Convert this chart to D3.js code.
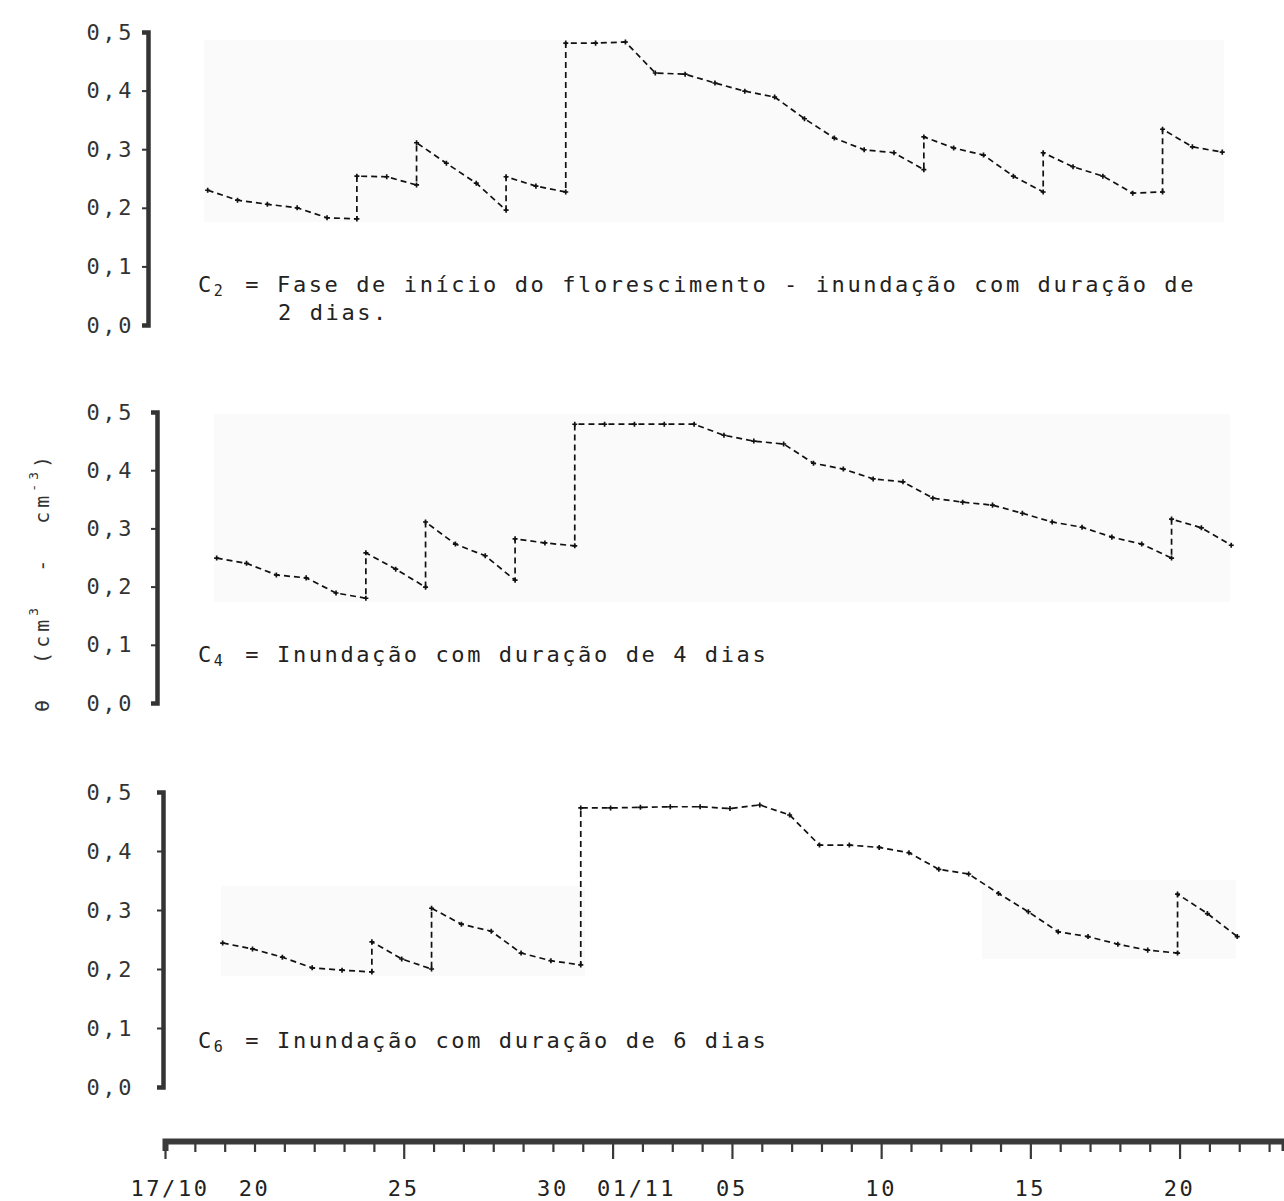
<!DOCTYPE html>
<html>
<head>
<meta charset="utf-8">
<script src="https://cdn.jsdelivr.net/npm/d3@7"></script>
<style>
body{margin:0;background:#fff}
text{font-family:"DejaVu Sans Mono",monospace}
</style>
</head>
<body>
<svg id="chart"></svg>
<script>
// day 0 = 17/10 ; a day listed twice is the value before and after the flooding
var c2Days  = [2,3,4,5,6,7,7,8,9,9,10,11,12,12,13,14,14,15,16,17,18,19,20,21,22,23,24,25,26,26,27,28,29,30,30,31,32,33,34,34,35,36];
var c2Theta = [0.230,0.213,0.206,0.200,0.183,0.181,0.254,0.253,0.239,0.311,0.276,0.242,0.196,0.253,0.237,0.227,0.481,0.481,0.483,0.430,0.428,0.413,0.399,0.389,0.352,0.319,0.299,0.294,0.265,0.321,0.302,0.290,0.254,0.227,0.294,0.270,0.254,0.225,0.227,0.334,0.304,0.295];

var c4Days  = [2,3,4,5,6,7,7,8,9,9,10,11,12,12,13,14,14,15,16,17,18,19,20,21,22,23,24,25,26,27,28,29,30,31,32,33,34,34,35,36];
var c4Theta = [0.249,0.240,0.220,0.215,0.189,0.180,0.258,0.230,0.199,0.311,0.273,0.253,0.211,0.282,0.275,0.270,0.479,0.479,0.479,0.479,0.479,0.460,0.450,0.445,0.412,0.402,0.385,0.380,0.352,0.345,0.340,0.326,0.311,0.302,0.285,0.273,0.249,0.316,0.301,0.271];

var c6Days  = [2,3,4,5,6,7,7,8,9,9,10,11,12,13,14,14,15,16,17,18,19,20,21,22,23,24,25,26,27,28,29,30,31,32,33,34,34,35,36];
var c6Theta = [0.244,0.234,0.220,0.202,0.198,0.195,0.246,0.217,0.200,0.303,0.276,0.264,0.227,0.214,0.207,0.473,0.473,0.474,0.475,0.475,0.472,0.478,0.461,0.410,0.410,0.406,0.397,0.369,0.361,0.328,0.297,0.263,0.255,0.242,0.232,0.227,0.327,0.294,0.255];

var yTicks = [0,0.1,0.2,0.3,0.4,0.5];
var dateTickDays = [0,3,8,13,15,19,24,29,34];
var dateTickLabels = ["17/10","20","25","30","01/11","05","10","15","20"];

var captions = [
    ["2", " = Fase de início do florescimento - inundação com duração de", "2 dias."],
    ["4", " = Inundação com duração de 4 dias", ""],
    ["6", " = Inundação com duração de 6 dias", ""]
];

var screen = {width:1284, height:1201};

var svg = d3.select("#chart")
    .attr("width", screen.width)
    .attr("height", screen.height);

var xScale = d3.scaleLinear()
    .domain([0, 37.5])
    .range([165, 1284]);

var fmt = d3.formatLocale({decimal:",", thousands:".", grouping:[3], currency:["",""]}).format(".1f");

// scan leftovers: faint grey patches behind the curves
var patches = [[204,40,1020,182],[214,414,1016,188],[221,886,364,90],[982,880,254,79]];
svg.selectAll("rect.patch")
    .data(patches)
    .enter()
    .append("rect")
    .attr("class","patch")
    .attr("x", function(d){return d[0]})
    .attr("y", function(d){return d[1]})
    .attr("width", function(d){return d[2]})
    .attr("height", function(d){return d[3]})
    .attr("fill", "#fafafa");

var panels = [
    {days:c2Days, theta:c2Theta, top:32,  bottom:325,  shift:-17, capY:292},
    {days:c4Days, theta:c4Theta, top:412, bottom:703,  shift:-8,  capY:662},
    {days:c6Days, theta:c6Theta, top:792, bottom:1087, shift:-2,  capY:1048}
];

var drawPanel = function(p, i)
{
    var yScale = d3.scaleLinear()
        .domain([0, 0.5])
        .range([p.bottom, p.top]);

    var g = svg.append("g")
        .attr("transform", "translate(" + p.shift + ",0)");

    var axisX = xScale(0);
    var yAxis = d3.axisLeft(yScale)
        .tickValues(yTicks)
        .tickFormat(fmt)
        .tickSize(6)
        .tickPadding(axisX + p.shift - 134 - 6);

    var ax = g.append("g")
        .attr("transform", "translate(" + axisX + ",0)")
        .call(yAxis);
    ax.select(".domain")
        .attr("stroke", "#343434")
        .attr("stroke-width", 4.5);
    ax.selectAll(".tick line")
        .attr("stroke", "#343434")
        .attr("stroke-width", 2);
    ax.selectAll(".tick text")
        .attr("fill", "#333")
        .style("font-size", "22px")
        .style("letter-spacing", "2.6px");

    var line = d3.line()
        .x(function(d){return xScale(d[0])})
        .y(function(d){return yScale(d[1])});

    var pts = p.days.map(function(d, k){return [d, p.theta[k]]});

    g.append("path")
        .datum(pts)
        .attr("d", line)
        .attr("fill", "none")
        .attr("stroke", "#111")
        .attr("stroke-width", 1.7)
        .attr("stroke-dasharray", "6,4");

    g.selectAll("path.mark")
        .data(pts)
        .enter()
        .append("path")
        .attr("class", "mark")
        .attr("d", d3.symbol(d3.symbolCross).size(14))
        .attr("transform", function(d){return "translate(" + xScale(d[0]) + "," + yScale(d[1]) + ")"})
        .attr("fill", "#111");

    var c = captions[i];
    var t = svg.append("text")
        .attr("x", 198)
        .attr("y", p.capY)
        .attr("fill", "#222")
        .style("font-size", "22px")
        .style("letter-spacing", "2.6px");
    t.append("tspan").text("C");
    t.append("tspan").attr("dy", 4).style("font-size", "15px").text(c[0]);
    t.append("tspan").attr("dy", -4).attr("dx", 4).text(c[1]);

    if (c[2] != "")
    {
        svg.append("text")
            .attr("x", 278)
            .attr("y", p.capY + 28)
            .attr("fill", "#222")
            .style("font-size", "22px")
            .style("letter-spacing", "2.6px")
            .text(c[2]);
    }
}

panels.forEach(drawPanel);

// date axis
var xAxis = d3.axisBottom(xScale)
    .tickValues(d3.range(0, 38))
    .tickFormat("")
    .tickSizeOuter(0)
    .tickSize(10);

var xa = svg.append("g")
    .attr("transform", "translate(0,1141)")
    .call(xAxis);
xa.select(".domain")
    .attr("stroke", "#3a3a3a")
    .attr("stroke-width", 6);
xa.selectAll(".tick line")
    .attr("stroke", "#3a3a3a")
    .attr("stroke-width", 2.2)
    .attr("y2", function(d){return dateTickDays.indexOf(d) >= 0 && d != 3 && d != 13 ? 18 : 11});

var labelNudge = {"17/10":5, "01/11":24};
svg.selectAll("text.date")
    .data(dateTickDays)
    .enter()
    .append("text")
    .attr("class", "date")
    .attr("x", function(d, k){return xScale(d) + (labelNudge[dateTickLabels[k]] || 0)})
    .attr("y", 1196)
    .attr("text-anchor", "middle")
    .attr("fill", "#222")
    .style("font-size", "22px")
    .style("letter-spacing", "2.6px")
    .text(function(d, k){return dateTickLabels[k]});

// y title
var yt = svg.append("text")
    .attr("transform", "translate(49,582) rotate(-90)")
    .attr("text-anchor", "middle")
    .attr("fill", "#333")
    .style("font-size", "20px")
    .style("letter-spacing", "4px")
    .attr("xml:space", "preserve");
yt.append("tspan").text("θ  (cm");
yt.append("tspan").attr("dy", -11).style("font-size", "13px").text("3");
yt.append("tspan").attr("dy", 11).text("  -  cm");
yt.append("tspan").attr("dy", -11).style("font-size", "13px").text("-3");
yt.append("tspan").attr("dy", 11).text(")");
</script>
</body>
</html>
